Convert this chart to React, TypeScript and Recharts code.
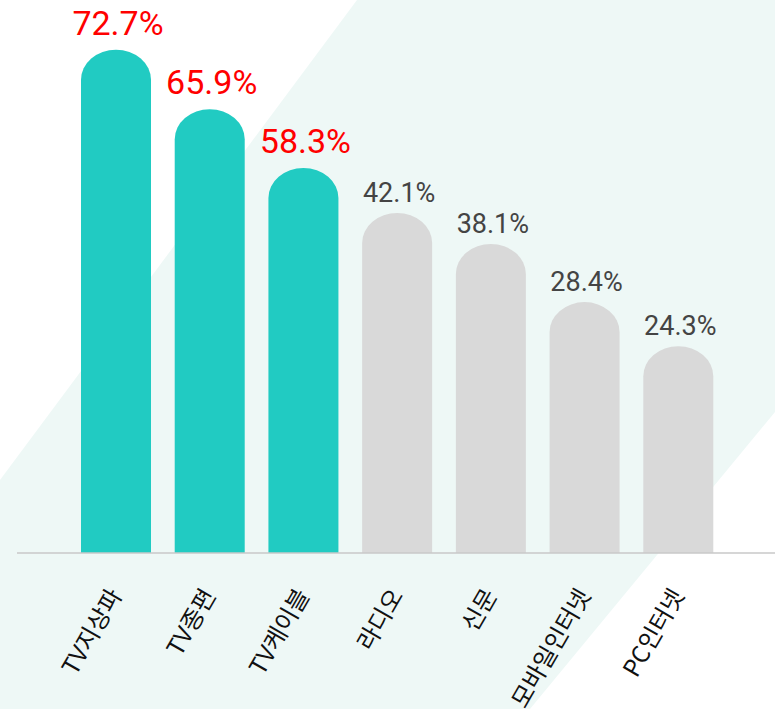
import React from 'react';
import { BarChart, Bar, XAxis, YAxis } from 'recharts';

// categories and printed shares (%)
const categories = ['TV지상파', 'TV종편', 'TV케이블', '라디오', '신문', '모바일인터넷', 'PC인터넷'];
const shares = [72.7, 65.9, 58.3, 42.1, 38.1, 28.4, 24.3];
// bar lengths as drawn in the infographic (not strictly proportional to the shares)
const barHeights = [72.8, 64.2, 55.7, 49.2, 44.7, 36.3, 29.9];
const highlighted = 3;

const data = categories.map((name, i) => ({ name, height: barHeights[i], share: shares[i] }));

const TEAL = '#21cbc2';
const GREY = '#d9d9d9';

const PillBar = (props: any) => {
  const { x, y, width, height, index } = props;
  const hi = index < highlighted;
  const rx = width / 2;
  const ry = 30;
  const bottom = y + height;
  const d = `M${x},${bottom} L${x},${y + ry} A${rx},${ry} 0 0 1 ${x + width},${y + ry} L${x + width},${bottom} Z`;
  return (
    <g>
      <path d={d} fill={hi ? TEAL : GREY} />
      <text
        x={x + width / 2 + 2}
        y={hi ? y - 15 : y - 11}
        textAnchor="middle"
        fill={hi ? '#ff0000' : '#444444'}
        fontSize={hi ? 34 : 27}
        fontFamily="Roboto, sans-serif"
      >
        {`${shares[index]}%`}
      </text>
    </g>
  );
};

const AngledTick = (props: any) => {
  const { x, y, payload } = props;
  const tx = x + 7;
  const ty = y + 34;
  return (
    <text
      x={tx}
      y={ty}
      transform={`rotate(-60, ${tx}, ${ty})`}
      textAnchor="end"
      fill="#111111"
      fontSize={24}
      fontFamily="'Noto Sans CJK KR', sans-serif"
    >
      {payload.value}
    </text>
  );
};

export default function App() {
  return (
    <div style={{ position: 'absolute', left: 0, top: 0, width: 775, height: 709, background: '#ffffff' }}>
      <svg width={775} height={709} style={{ position: 'absolute', left: 0, top: 0 }}>
        <polygon points="357,0 775,0 775,412 530,709 0,709 0,480" fill="#eef8f6" />
      </svg>
      <div style={{ position: 'absolute', left: 0, top: 0 }}>
        <BarChart width={775} height={709} data={data} margin={{ top: 0, right: 0, bottom: 0, left: 17 }}>
          <XAxis
            dataKey="name"
            height={156}
            interval={0}
            padding={{ left: 52, right: 50 }}
            tickLine={false}
            axisLine={{ stroke: '#c8c8c8', strokeWidth: 1.5 }}
            tick={<AngledTick />}
          />
          <YAxis hide domain={[0, 80]} />
          <Bar dataKey="height" barSize={70} shape={<PillBar />} isAnimationActive={false} />
        </BarChart>
      </div>
    </div>
  );
}
